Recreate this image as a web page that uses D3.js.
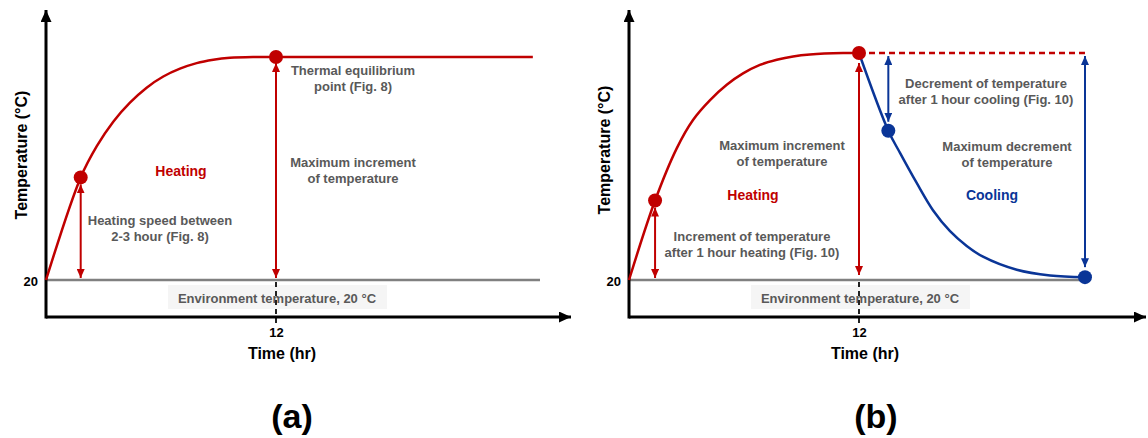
<!DOCTYPE html>
<html>
<head>
<meta charset="utf-8">
<script src="https://cdn.jsdelivr.net/npm/d3@7"></script>
<style>
  body { margin: 0; background: #fff; }
  svg { display: block; font-family: "Liberation Sans", Arial, sans-serif; font-weight: bold; }
</style>
</head>
<body>
<svg width="1148" height="438"></svg>
<script>
// Data (time in hr, temperature in °C, nominal)
const envTemp = 20;
const tickHour = 12;
const heatingA = [[0, 20], [1.81, 38.4], [2.65, 44.0], [3.51, 48.4], [4.38, 51.8], [5.25, 54.5],
  [6.12, 56.5], [6.99, 57.9], [7.86, 58.9], [8.73, 59.5], [9.6, 59.85], [10.8, 60], [12, 60], [25.4, 60]];
const markersA = [[1.81, 38.4], [12, 60]];
const heatingB = [[0, 20], [1.36, 34.0], [2.49, 43.2], [3.34, 48.2], [4.23, 51.7], [5.1, 54.4],
  [5.95, 56.4], [6.83, 57.9], [7.71, 58.8], [8.56, 59.4], [9.44, 59.75], [11.17, 60], [12, 60]];
const coolingB = [[12, 60], [13.53, 46.3], [14.14, 42.4], [15.01, 37.1], [15.86, 32.3], [16.75, 28.6],
  [17.62, 26.0], [18.47, 24.1], [20.23, 21.8], [21.97, 20.8], [23.79, 20.5]];
const heatMarkersB = [[1.36, 34.0], [12, 60]];
const coolMarkersB = [[13.53, 46.3], [23.79, 20.5]];

const red = "#c00000", blue = "#0a3597", gray = "#595959";
const svg = d3.select("svg");

// arrow markers
const defs = svg.append("defs");
function marker(id, color, w, l) {
  defs.append("marker")
    .attr("id", id)
    .attr("markerUnits", "userSpaceOnUse")
    .attr("viewBox", `0 ${-w} ${l} ${2 * w}`)
    .attr("refX", l).attr("refY", 0)
    .attr("markerWidth", l).attr("markerHeight", 2 * w)
    .attr("orient", "auto-start-reverse")
    .append("path")
    .attr("d", `M0,${-w}L${l},0L0,${w}Z`)
    .attr("fill", color);
}
marker("ar-red", red, 4, 9);
marker("ar-blue", blue, 4, 9);
marker("ar-black", "#000", 5.5, 12);

function panel(cfg) {
  const x = d3.scaleLinear().domain([0, tickHour]).range([cfg.x0, cfg.x12]);
  const y = d3.scaleLinear().domain([envTemp, 60]).range([280, cfg.yTop]);
  const g = svg.append("g");
  const xAxisY = 317;

  // environment label background
  g.append("rect")
    .attr("x", x(tickHour) - 108).attr("y", 285)
    .attr("width", 219).attr("height", 24)
    .attr("fill", "#f5f5f5");

  // environment line
  g.append("line")
    .attr("x1", x(0)).attr("x2", cfg.envEnd)
    .attr("y1", y(envTemp)).attr("y2", y(envTemp))
    .attr("stroke", "#808080").attr("stroke-width", 2.5);

  g.append("text")
    .attr("x", x(tickHour) + 1).attr("y", 303)
    .attr("text-anchor", "middle")
    .attr("font-size", 13).attr("fill", gray)
    .text("Environment temperature, 20 °C");

  // dashed tick at 12 hr
  g.append("line")
    .attr("x1", x(tickHour)).attr("x2", x(tickHour))
    .attr("y1", y(envTemp) + 2).attr("y2", xAxisY + 6)
    .attr("stroke", "#222").attr("stroke-width", 2)
    .attr("stroke-dasharray", "5,4");

  // axes
  const xAxis = g.append("g")
    .attr("transform", `translate(0,${xAxisY})`)
    .call(d3.axisBottom(x).tickValues([tickHour]).tickSize(0).tickPadding(11).tickFormat(d3.format("d")));
  xAxis.select(".domain").remove();
  xAxis.selectAll("text").attr("font-size", 13).attr("font-family", null).attr("fill", "#000");

  const yAxis = g.append("g")
    .attr("transform", `translate(${cfg.x0 - 8},0)`)
    .call(d3.axisLeft(y).tickValues([envTemp]).tickSize(0).tickPadding(0));
  yAxis.select(".domain").remove();
  yAxis.selectAll("text").attr("font-size", 13).attr("font-family", null).attr("fill", "#000").attr("dy", "0.4em");

  g.append("line")
    .attr("x1", x(0)).attr("x2", cfg.xEnd)
    .attr("y1", xAxisY).attr("y2", xAxisY)
    .attr("stroke", "#000").attr("stroke-width", 3)
    .attr("marker-end", "url(#ar-black)");
  g.append("line")
    .attr("x1", x(0)).attr("x2", x(0))
    .attr("y1", xAxisY + 1.5).attr("y2", 10)
    .attr("stroke", "#000").attr("stroke-width", 3)
    .attr("marker-end", "url(#ar-black)");

  g.append("text")
    .attr("x", x(tickHour) + 6).attr("y", 359)
    .attr("text-anchor", "middle").attr("font-size", 16)
    .text("Time (hr)");
  g.append("text")
    .attr("transform", `translate(${cfg.x0 - 19},${cfg.yLabel}) rotate(-90)`)
    .attr("text-anchor", "middle").attr("font-size", 16)
    .text("Temperature (°C)");

  g.append("text")
    .attr("x", x(tickHour) + cfg.tagDx).attr("y", 428)
    .attr("text-anchor", "middle").attr("font-size", 34)
    .text(cfg.tag);

  return { g, x, y };
}

function curve(p, data, color, dash) {
  const line = d3.line().x(d => p.x(d[0])).y(d => p.y(d[1])).curve(d3.curveCatmullRom.alpha(0.5));
  p.g.append("path")
    .datum(data)
    .attr("d", line)
    .attr("fill", "none")
    .attr("stroke", color).attr("stroke-width", 2.5)
    .attr("stroke-dasharray", dash || null);
}

function dots(p, data, color) {
  p.g.selectAll(null).data(data).enter().append("circle")
    .attr("cx", d => p.x(d[0])).attr("cy", d => p.y(d[1]))
    .attr("r", 7).attr("fill", color);
}

function dblArrow(p, t, T1, T2, gap1, gap2, color, id) {
  const ya = p.y(T1), yb = p.y(T2);
  const dir = yb < ya ? -1 : 1;
  p.g.append("line")
    .attr("x1", p.x(t)).attr("x2", p.x(t))
    .attr("y1", ya + dir * gap1).attr("y2", yb - dir * gap2)
    .attr("stroke", color).attr("stroke-width", 2)
    .attr("marker-start", `url(#${id})`)
    .attr("marker-end", `url(#${id})`);
}

function label(p, lines, cx, cy, color, size) {
  const t = p.g.append("text")
    .attr("text-anchor", "middle")
    .attr("font-size", size).attr("fill", color);
  lines.forEach((s, i) => {
    t.append("tspan").attr("x", cx).attr("y", cy + i * 16).text(s);
  });
}

// ---- panel (a)
const A = panel({ x0: 46, x12: 276, yTop: 57, envEnd: 540, xEnd: 571, yLabel: 155, tag: "(a)", tagDx: 16 });
dblArrow(A, markersA[0][0], envTemp, markersA[0][1], 2, 7, red, "ar-red");
dblArrow(A, markersA[1][0], envTemp, markersA[1][1], 2, 6, red, "ar-red");
curve(A, heatingA, red);
dots(A, markersA, red);
label(A, ["Heating"], 181, 176, red, 14);
label(A, ["Heating speed between", "2-3 hour (Fig. 8)"], 160, 224.5, gray, 13);
label(A, ["Thermal equilibrium", "point (Fig. 8)"], 353, 74.5, gray, 13);
label(A, ["Maximum increment", "of temperature"], 353, 166.5, gray, 13);

// ---- panel (b)
const B = panel({ x0: 629, x12: 859, yTop: 53, envEnd: 1090, xEnd: 1146, yLabel: 150, tag: "(b)", tagDx: 17 });
curve(B, [[12, 60], [coolMarkersB[1][0], 60]], red, "6,4");
dblArrow(B, heatMarkersB[0][0], envTemp, heatMarkersB[0][1], 2, 7, red, "ar-red");
dblArrow(B, heatMarkersB[1][0], envTemp, heatMarkersB[1][1], 5, 10, red, "ar-red");
dblArrow(B, coolMarkersB[0][0], 60, coolMarkersB[0][1], 3, 9, blue, "ar-blue");
dblArrow(B, coolMarkersB[1][0], 60, coolMarkersB[1][1], 3, 10, blue, "ar-blue");
curve(B, heatingB, red);
curve(B, coolingB, blue);
dots(B, heatMarkersB, red);
dots(B, coolMarkersB, blue);
label(B, ["Maximum increment", "of temperature"], 782, 149.5, gray, 13);
label(B, ["Heating"], 753, 200, red, 14);
label(B, ["Increment of temperature", "after 1 hour heating (Fig. 10)"], 752, 240.5, gray, 13);
label(B, ["Decrement of temperature", "after 1 hour cooling (Fig. 10)"], 986, 87.8, gray, 13);
label(B, ["Maximum decrement", "of temperature"], 1007, 151, gray, 13);
label(B, ["Cooling"], 992, 200, blue, 14);
</script>
</body>
</html>
